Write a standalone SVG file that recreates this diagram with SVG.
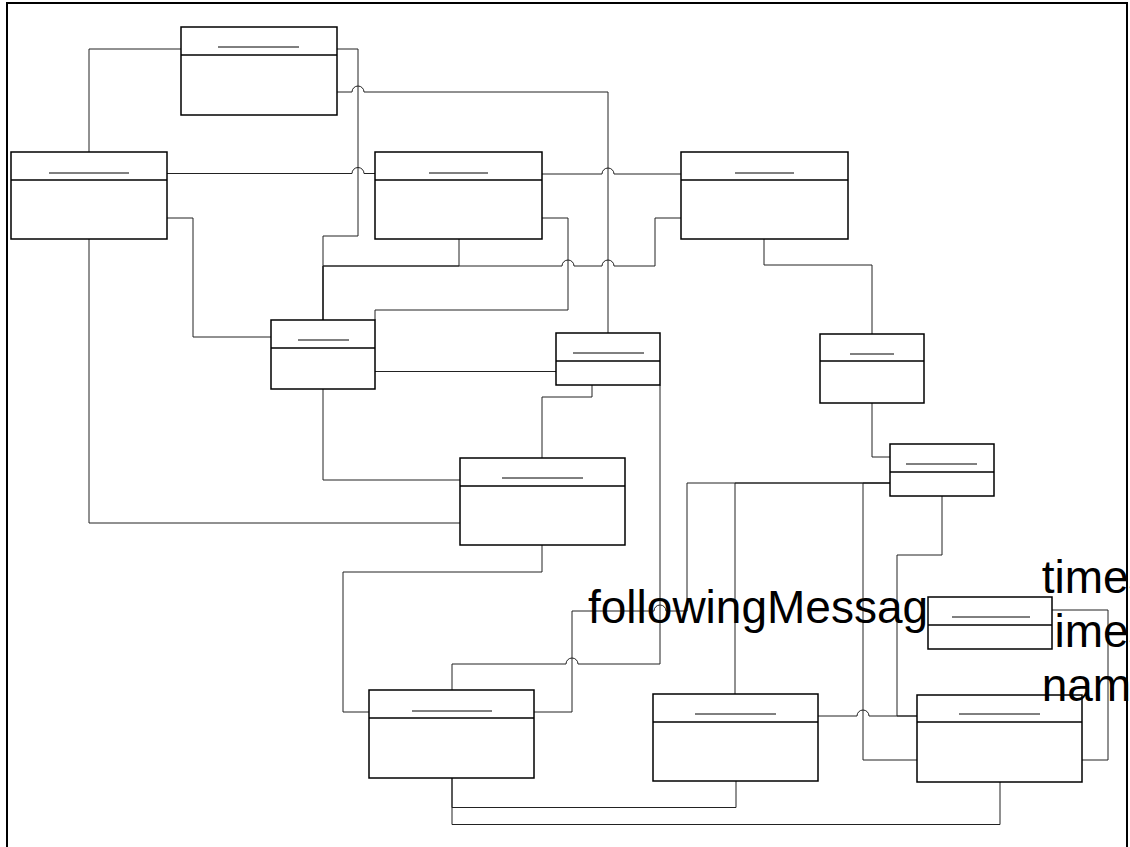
<svg xmlns="http://www.w3.org/2000/svg" width="1130" height="847" viewBox="0 0 1130 847">
<style>
.frame{fill:none;stroke:#000;stroke-width:2}
.c{fill:none;stroke:#222;stroke-width:1}
.box{fill:#fff;stroke:#000;stroke-width:1.5}
.div{stroke:#000;stroke-width:1.5}
.ul{stroke:#000;stroke-width:1}
.lbl{font-family:"Liberation Sans",Arial,sans-serif;font-size:46px;fill:#000}
</style>
<rect class="frame" x="7" y="3" width="1120" height="870"/>
<g id="connectors">
<path class="c" d="M181,49 H89 V152"/>
<path class="c" d="M337,49 H358 V236 H323 V320"/>
<path class="c" d="M337,92 H352 A6,6 0 0 1 364,92 H608 V333"/>
<path class="c" d="M167,173.5 H352 A6,6 0 0 1 364,173.5 H375"/>
<path class="c" d="M542,174 H602 A6,6 0 0 1 614,174 H681"/>
<path class="c" d="M167,218 H193 V337 H271"/>
<path class="c" d="M89,239 V523 H460"/>
<path class="c" d="M459,239 V266 H323 V320"/>
<path class="c" d="M681,218 H655 V266 H614 A6,6 0 0 0 602,266 H574 A6,6 0 0 0 562,266 H323 V320"/>
<path class="c" d="M542,218 H568 V310 H375 V320"/>
<path class="c" d="M375,371.5 H556"/>
<path class="c" d="M592,385 V397 H542 V458"/>
<path class="c" d="M660,385 V664 H578 A6,6 0 0 0 566,664 H452 V690"/>
<path class="c" d="M323,389 V480 H460"/>
<path class="c" d="M542,545 V572 H343 V712 H369"/>
<path class="c" d="M890,483 H687 V611 H666 A6,6 0 0 0 654,611 H572 V712 H534"/>
<path class="c" d="M890,483 H735 V694"/>
<path class="c" d="M890,483 H863 V760 H917"/>
<path class="c" d="M872,403 V457 H890"/>
<path class="c" d="M764,239 V265 H872 V334"/>
<path class="c" d="M942,496 V555 H897 V716 H917"/>
<path class="c" d="M818,716 H857 A6,6 0 0 1 869,716 H917"/>
<path class="c" d="M1052,610 H1108 V760 H1082"/>
<path class="c" d="M1000,782 V824.5 H452 V778"/>
<path class="c" d="M736,781 V807.5 H452 V778"/>
</g>
<g id="n1"><rect class="box" x="181" y="27" width="156" height="88"/><line class="div" x1="181" y1="55" x2="337" y2="55"/><line class="ul" x1="218" y1="47" x2="299" y2="47"/></g>
<g id="n2"><rect class="box" x="11" y="152" width="156" height="87"/><line class="div" x1="11" y1="180" x2="167" y2="180"/><line class="ul" x1="49" y1="173" x2="129" y2="173"/></g>
<g id="n3"><rect class="box" x="375" y="152" width="167" height="87"/><line class="div" x1="375" y1="180" x2="542" y2="180"/><line class="ul" x1="429" y1="173" x2="488" y2="173"/></g>
<g id="n4"><rect class="box" x="681" y="152" width="167" height="87"/><line class="div" x1="681" y1="180" x2="848" y2="180"/><line class="ul" x1="735" y1="173" x2="794" y2="173"/></g>
<g id="n5"><rect class="box" x="271" y="320" width="104" height="69"/><line class="div" x1="271" y1="348" x2="375" y2="348"/><line class="ul" x1="298" y1="340" x2="349" y2="340"/></g>
<g id="n6"><rect class="box" x="556" y="333" width="104" height="52"/><line class="div" x1="556" y1="361" x2="660" y2="361"/><line class="ul" x1="573" y1="353" x2="644" y2="353"/></g>
<g id="n7"><rect class="box" x="460" y="458" width="165" height="87"/><line class="div" x1="460" y1="486" x2="625" y2="486"/><line class="ul" x1="502" y1="478" x2="583" y2="478"/></g>
<g id="n8"><rect class="box" x="820" y="334" width="104" height="69"/><line class="div" x1="820" y1="361" x2="924" y2="361"/><line class="ul" x1="850" y1="354" x2="894" y2="354"/></g>
<g id="n9"><rect class="box" x="890" y="444" width="104" height="52"/><line class="div" x1="890" y1="472" x2="994" y2="472"/><line class="ul" x1="906" y1="464" x2="977" y2="464"/></g>
<g id="n11"><rect class="box" x="917" y="695" width="165" height="87"/><line class="div" x1="917" y1="722" x2="1082" y2="722"/><line class="ul" x1="959" y1="714" x2="1040" y2="714"/></g>
<g id="n12"><rect class="box" x="653" y="694" width="165" height="87"/><line class="div" x1="653" y1="722" x2="818" y2="722"/><line class="ul" x1="695" y1="714" x2="776" y2="714"/></g>
<g id="n13"><rect class="box" x="369" y="690" width="165" height="88"/><line class="div" x1="369" y1="718" x2="534" y2="718"/><line class="ul" x1="412" y1="711" x2="492" y2="711"/></g>
<g id="labels">
<text class="lbl" x="588" y="622.5">followingMessag</text>
<text class="lbl" x="1041.7" y="593.3">times</text>
<text class="lbl" x="1054.5" y="647">imes</text>
<text class="lbl" x="1041.7" y="701">nam</text>
</g>
<g id="n10"><rect class="box" x="928" y="597" width="124" height="52"/><line class="div" x1="928" y1="625" x2="1052" y2="625"/><line class="ul" x1="952" y1="617" x2="1030" y2="617"/></g>
</svg>
